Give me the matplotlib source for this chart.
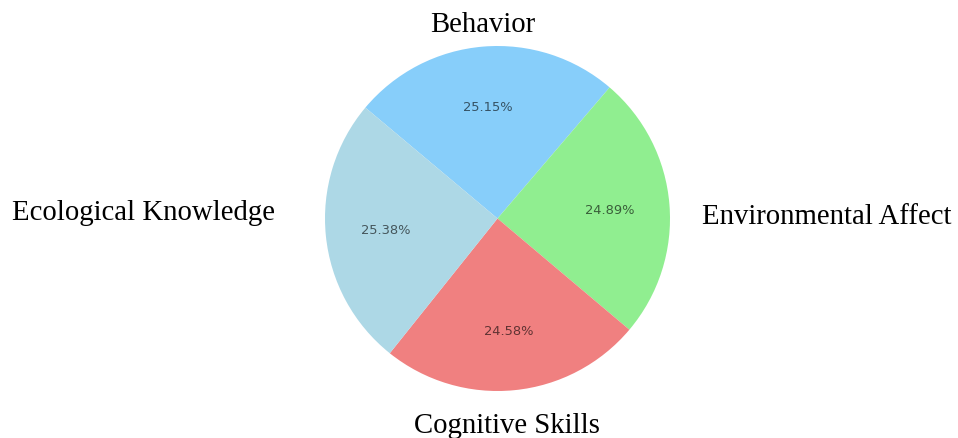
import matplotlib.pyplot as plt

# pie data (clockwise from the upper-left)
Categories = ["Behavior", "Environmental Affect", "Cognitive Skills", "Ecological Knowledge"]
Shares = [25.15, 24.89, 24.58, 25.38]
Colours = ["lightskyblue", "lightgreen", "lightcoral", "lightblue"]

W, H = 958, 439
fig = plt.figure(figsize=(W / 100, H / 100), dpi=100)

# pie centre ~ (497.5, 219.5) px, radius ~172.5 px
cx, cy, r = 497.5, 219.5, 172.5
ax = fig.add_axes([(cx - r) / W, (H - cy - r) / H, 2 * r / W, 2 * r / H])

wedges, texts, autotexts = ax.pie(Shares, colors=Colours, startangle=140,
                                  counterclock=False, autopct='%1.2f%%',
                                  pctdistance=0.65)
for t in autotexts:
    t.set_fontsize(9.4)
    t.set_color('black')
    t.set_alpha(0.6)
ax.set_xlim(-1, 1)
ax.set_ylim(-1, 1)

# outer labels placed at the four sides
LabelPos = [(483, 25), (827, 217), (507, 426), (143, 213)]
for name, (px, py) in zip(Categories, LabelPos):
    fig.text(px / W, 1 - py / H, name, ha='center', va='center',
             family=['Liberation Serif', 'DejaVu Serif'], fontsize=20.7)

fig.savefig("out.png", dpi=100)
